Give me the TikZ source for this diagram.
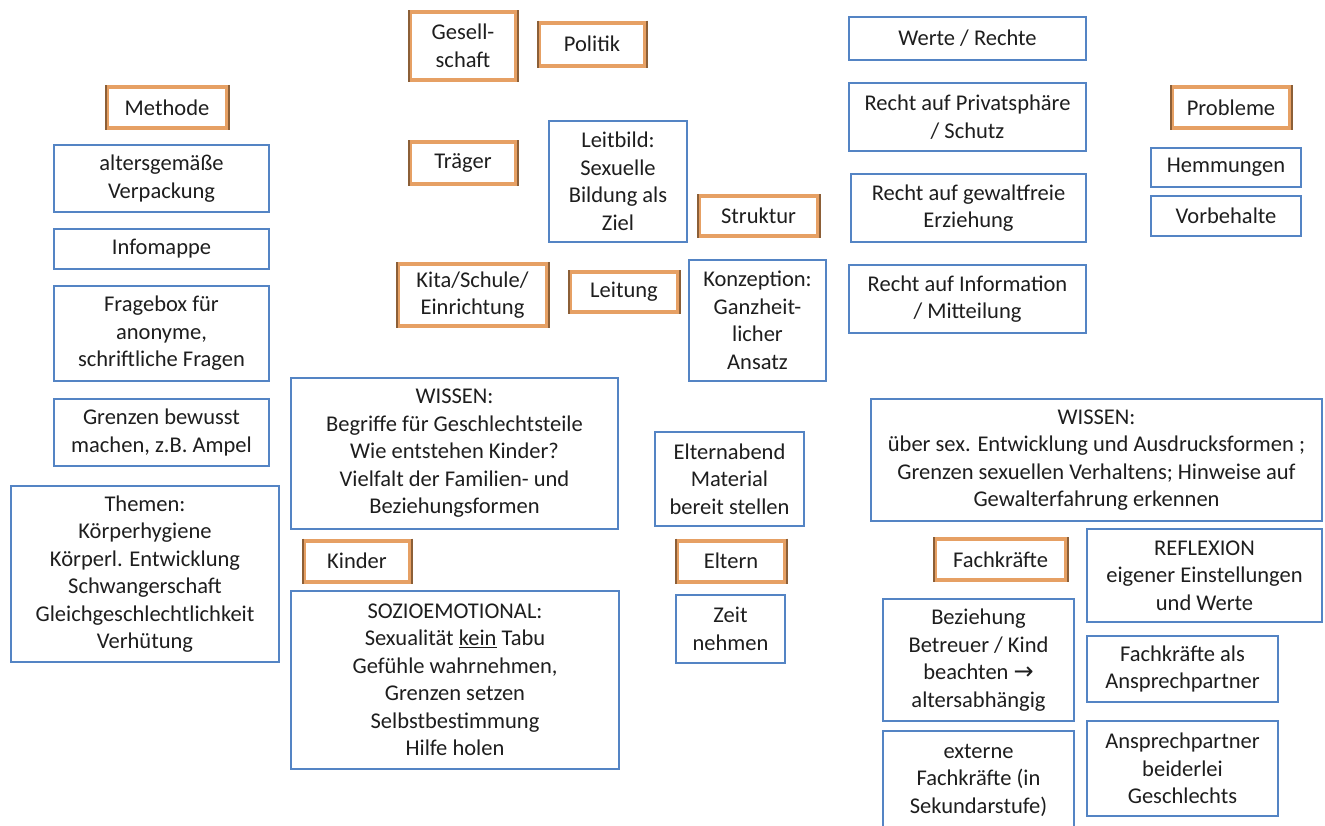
\documentclass[tikz,border=0pt]{standalone}
\usepackage{fontspec}
\setmainfont{Carlito}
\newfontfamily\dejavu{DejaVu Sans}
\definecolor{boxblue}{RGB}{84,132,196}
\definecolor{boxorange}{RGB}{230,160,100}
\definecolor{boxbrown}{RGB}{140,95,55}
\definecolor{textc}{RGB}{30,30,30}
\tikzset{
  base/.style={inner sep=0pt, align=center, text=textc, fill=white,
    font=\fontsize{22.5}{27.5}\selectfont},
  bbox/.style={base, draw=boxblue, line width=2pt},
  obox/.style={base, draw=boxorange, line width=4pt},
  brownside/.style={draw=boxbrown, line width=2pt}
}
\begin{document}
\begin{tikzpicture}[x=1pt,y=-1pt]
\path[use as bounding box] (0,0) rectangle (1325,825);
\clip (0,0) rectangle (1325,825);

% orange heading boxes
\node[obox, minimum width=106pt, minimum height=68pt] (ges) at (463,46) {Gesell-\\schaft};
\node[obox, minimum width=106pt, minimum height=43pt] (pol) at (592,44) {Politik};
\node[obox, minimum width=120pt, minimum height=41pt] (meth) at (167,107.5) {Methode};
\node[obox, minimum width=106pt, minimum height=42pt] (traeg) at (463,163) {Träger};
\node[obox, minimum width=119pt, minimum height=40pt] (strukt) at (758.5,216) {Struktur};
\node[obox, minimum width=149pt, minimum height=62pt] (kita) at (472.5,295) {Kita/Schule/\\Einrichtung};
\node[obox, minimum width=108pt, minimum height=40pt] (leit) at (624,292) {Leitung};
\node[obox, minimum width=118pt, minimum height=41pt] (probl) at (1231,107.5) {Probleme};
\node[obox, minimum width=106pt, minimum height=41pt] (kind) at (357,561) {Kinder};
\node[obox, minimum width=108pt, minimum height=41pt] (elt) at (731,561) {Eltern};
\node[obox, minimum width=131pt, minimum height=41pt] (fach) at (1000.5,559.5) {Fachkräfte};

\foreach \n in {ges,pol,meth,traeg,strukt,kita,leit,probl,kind,elt,fach}{
  \draw[brownside] ([xshift=0.5pt]\n.north west) -- ([xshift=0.5pt]\n.south west);
  \draw[brownside] ([xshift=-0.5pt]\n.north east) -- ([xshift=-0.5pt]\n.south east);
}

% blue boxes: Werte / Rechte column
\node[bbox, minimum width=237pt, minimum height=43pt] (werte) at (967.5,38.5) {Werte / Rechte};
\node[bbox, minimum width=237pt, minimum height=68pt] (privat) at (967.5,117) {Recht auf Privatsphäre\\/ Schutz};
\node[bbox, minimum width=235pt, minimum height=68pt] (gewalt) at (968.5,208) {Recht auf gewaltfreie\\Erziehung};
\node[bbox, minimum width=237pt, minimum height=68pt] (info) at (967.5,299) {Recht auf Information\\/ Mitteilung};

% Probleme
\node[bbox, minimum width=150pt, minimum height=39pt] (hemm) at (1226,167.5) {Hemmungen};
\node[bbox, minimum width=150pt, minimum height=40pt] (vorb) at (1226,216) {Vorbehalte};

% Methode column
\node[bbox, minimum width=215pt, minimum height=67pt] (alters) at (161.5,178.5) {altersgemäße\\Verpackung};
\node[bbox, minimum width=215pt, minimum height=40pt] (mappe) at (161.5,249) {Infomappe};
\node[bbox, minimum width=215pt, minimum height=95pt] (frage) at (161.5,333.5) {Fragebox für\\anonyme,\\schriftliche Fragen};
\node[bbox, minimum width=215pt, minimum height=67pt] (grenz) at (161.5,432.5) {Grenzen bewusst\\machen, z.B. Ampel};
\node[bbox, minimum width=268pt, minimum height=176pt] (themen) at (145,574) {Themen:\\Körperhygiene\\Körperl. Entwicklung\\Schwangerschaft\\Gleichgeschlechtlichkeit\\Verhütung};

% Mitte
\node[bbox, minimum width=138pt, minimum height=121pt] (leitbild) at (618,181.5) {Leitbild:\\Sexuelle\\Bildung als\\Ziel};
\node[bbox, minimum width=137pt, minimum height=121pt] (konz) at (757.5,320.5) {Konzeption:\\Ganzheit-\\licher\\Ansatz};
\node[bbox, minimum width=327pt, minimum height=151pt] (wissenk) at (454.5,453.5) {WISSEN:\\Begriffe für Geschlechtsteile\\Wie entstehen Kinder?\\Vielfalt der Familien- und\\Beziehungsformen};
\node[bbox, minimum width=328pt, minimum height=178pt] (sozio) at (455,680) {SOZIOEMOTIONAL:\\Sexualität \underline{kein} Tabu\\Gefühle wahrnehmen,\\Grenzen setzen\\Selbstbestimmung\\Hilfe holen};
\node[bbox, minimum width=149pt, minimum height=94pt] (abend) at (729.5,479) {Elternabend\\Material\\bereit stellen};
\node[bbox, minimum width=109pt, minimum height=68pt] (zeit) at (730.5,629) {Zeit\\nehmen};

% Fachkräfte
\node[bbox, minimum width=451pt, minimum height=122pt] (wissenf) at (1096.5,460) {WISSEN:\\über sex. Entwicklung und Ausdrucksformen ;\\Grenzen sexuellen Verhaltens; Hinweise auf\\Gewalterfahrung erkennen};
\node[bbox, minimum width=235pt, minimum height=93pt] (refl) at (1204.5,575.5) {REFLEXION\\eigener Einstellungen\\und Werte};
\node[bbox, minimum width=191pt, minimum height=122pt] (bez) at (978.5,660) {Beziehung\\Betreuer / Kind\\beachten {\dejavu\fontsize{24}{27.5}\selectfont →}\\altersabhängig};
\node[bbox, minimum width=191pt, minimum height=66pt] (fachals) at (1182.5,669) {Fachkräfte als\\Ansprechpartner};
\node[bbox, minimum width=191pt, minimum height=98pt] (extern) at (978.5,780) {externe\\Fachkräfte (in\\Sekundarstufe)};
\node[bbox, minimum width=191pt, minimum height=95pt] (ansp) at (1182.5,768.5) {Ansprechpartner\\beiderlei\\Geschlechts};
\end{tikzpicture}
\end{document}
